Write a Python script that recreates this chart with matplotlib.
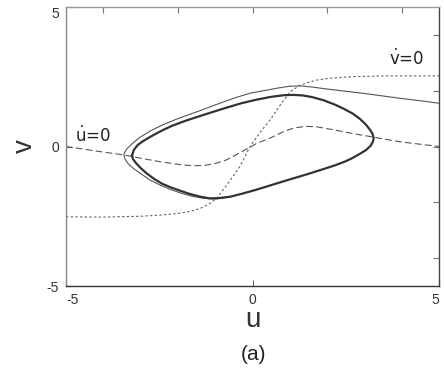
import matplotlib
matplotlib.use('Agg')
from matplotlib import pyplot as plt

plt.rcParams['font.family'] = ['Liberation Sans', 'DejaVu Sans']
plt.rcParams['mathtext.fontset'] = 'dejavusans'
plt.rcParams['axes.unicode_minus'] = False

# limit cycle (thick), read clockwise from leftmost point
cycle_u = [-3.23, -3.18, -3.08, -2.95, -2.80, -2.60, -2.40, -2.16, -1.80, -1.32,
           -0.80, -0.30, 0.11, 0.50, 0.85, 1.10, 1.35, 1.60, 1.90, 2.21,
           2.45, 2.70, 2.88, 3.03, 3.15, 3.22, 3.25, 3.23, 3.17, 3.05,
           2.92, 2.79, 2.64, 2.48, 2.20, 1.90, 1.50, 1.00, 0.56, 0.10, -0.30,
           -0.60, -0.90, -1.14, -1.40, -1.68, -1.95, -2.20, -2.43, -2.65, -2.85,
           -3.00, -3.12, -3.20, -3.23]
cycle_v = [-0.33, -0.12, 0.05, 0.18, 0.30, 0.45, 0.59, 0.74, 0.92, 1.13,
           1.35, 1.55, 1.68, 1.78, 1.84, 1.85, 1.83, 1.77, 1.66, 1.50,
           1.35, 1.17, 0.99, 0.80, 0.60, 0.45, 0.30, 0.18, 0.03, -0.12,
           -0.23, -0.33, -0.44, -0.54, -0.68, -0.81, -0.98, -1.18, -1.36, -1.55, -1.70,
           -1.80, -1.85, -1.86, -1.80, -1.70, -1.58, -1.46, -1.33, -1.15, -0.95,
           -0.77, -0.60, -0.46, -0.33]

# trajectory (thin), entering from the right edge
traj_u = [5.0, 4.5, 4.0, 3.5, 3.0, 2.5, 2.0, 1.6, 1.3, 1.0,
          0.7, 0.3, -0.07, -0.50, -1.00, -1.50, -2.00, -2.40, -2.75, -3.05,
          -3.25, -3.38, -3.45, -3.42, -3.33, -3.20, -3.00, -2.75, -2.48, -2.20,
          -1.90, -1.60, -1.30, -1.00, -0.70]
traj_v = [1.55, 1.64, 1.72, 1.81, 1.90, 1.98, 2.06, 2.13, 2.17, 2.16,
          2.10, 2.00, 1.91, 1.73, 1.49, 1.24, 1.00, 0.78, 0.55, 0.30,
          0.07, -0.10, -0.28, -0.45, -0.62, -0.78, -0.97, -1.20, -1.38, -1.54,
          -1.68, -1.79, -1.86, -1.88, -1.83]

# u-nullcline (dashed)
unull_u = [-5.0, -4.5, -4.0, -3.46, -3.0, -2.5, -2.0, -1.6, -1.3, -1.0,
           -0.7, -0.4, -0.1, 0.11, 0.47, 0.83, 1.1, 1.4, 1.7, 2.17,
           2.7, 3.23, 3.6, 3.95, 4.5, 5.0]
unull_v = [0.0, -0.10, -0.20, -0.30, -0.42, -0.54, -0.64, -0.69, -0.68, -0.61,
           -0.48, -0.27, -0.05, 0.11, 0.30, 0.53, 0.66, 0.72, 0.71, 0.60,
           0.46, 0.34, 0.25, 0.17, 0.08, 0.0]

# v-nullcline (dotted)
vnull_u = [-5.0, -4.0, -3.0, -2.48, -2.0, -1.68, -1.4, -1.15, -0.96, -0.70,
           -0.34, -0.07, 0.25, 0.47, 0.75, 1.01, 1.25, 1.50, 1.72, 2.1,
           2.62, 3.5, 5.0]
vnull_v = [-2.52, -2.53, -2.50, -2.46, -2.40, -2.33, -2.22, -2.05, -1.85, -1.40,
           -0.72, -0.01, 0.59, 0.95, 1.50, 1.96, 2.18, 2.30, 2.38, 2.45,
           2.50, 2.53, 2.53]

fig = plt.figure(figsize=(4.44, 3.73), dpi=100)
ax = fig.add_axes([66/444, 87/373, 373/444, 279/373])

ax.plot(unull_u, unull_v, color='#555555', lw=0.8, dashes=(6, 3))
ax.plot(vnull_u, vnull_v, color='#666666', lw=0.8, dashes=(2.2, 2))
ax.plot(traj_u, traj_v, color='#555555', lw=0.8)
ax.plot(cycle_u, cycle_v, color='#333333', lw=1.6)

ax.text(-4.76, 0.16, r'$\dot{\mathrm{u}}$=0', fontsize=12, color='#222222',
        family='DejaVu Sans')
ax.text(3.66, 2.92, r'$\dot{\mathrm{v}}$=0', fontsize=12, color='#222222',
        family='DejaVu Sans')

ax.set_xlim(-5, 5)
ax.set_ylim(-5, 5)
ax.set_xticks([-5, 0, 5])
ax.set_yticks([-5, 0, 5])
ax.set_xticks([-4, -2, 0, 2, 4], minor=True)
ax.set_yticks([-4, -2, 0, 2, 4], minor=True)
ax.xaxis.remove_overlapping_locs = False
ax.yaxis.remove_overlapping_locs = False
ax.tick_params(which='major', direction='in', length=4, width=0.8,
               labelsize=10, labelcolor='#333333', color='#666666',
               top=False, right=False, pad=5)
ax.tick_params(which='minor', direction='in', length=4, width=0.8,
               color='#777777', bottom=False, left=False, top=True, right=True)

xl = ax.get_xticklabels()
xl[0].set_horizontalalignment('left')
xl[-1].set_horizontalalignment('right')
yl = ax.get_yticklabels()
yl[-1].set_verticalalignment('top')

ax.spines['left'].set_color('#888888')
ax.spines['top'].set_color('#999999')
ax.spines['right'].set_color('#444444')
ax.spines['bottom'].set_color('#333333')
for s in ax.spines.values():
    s.set_linewidth(1.0)

ax.set_xlabel('u', fontsize=20, color='#333333')
ax.xaxis.set_label_coords(0.5, -0.147)
ax.xaxis.label.set_va('baseline')
ax.set_ylabel('v', fontsize=20, color='#333333')
ax.yaxis.set_label_coords(-0.091, 0.5)
ax.yaxis.label.set_va('baseline')

fig.text(253/444, 1 - 354/373, '(a)', fontsize=15, color='#222222',
         ha='center', va='center')

fig.savefig('out.png', dpi=100)
